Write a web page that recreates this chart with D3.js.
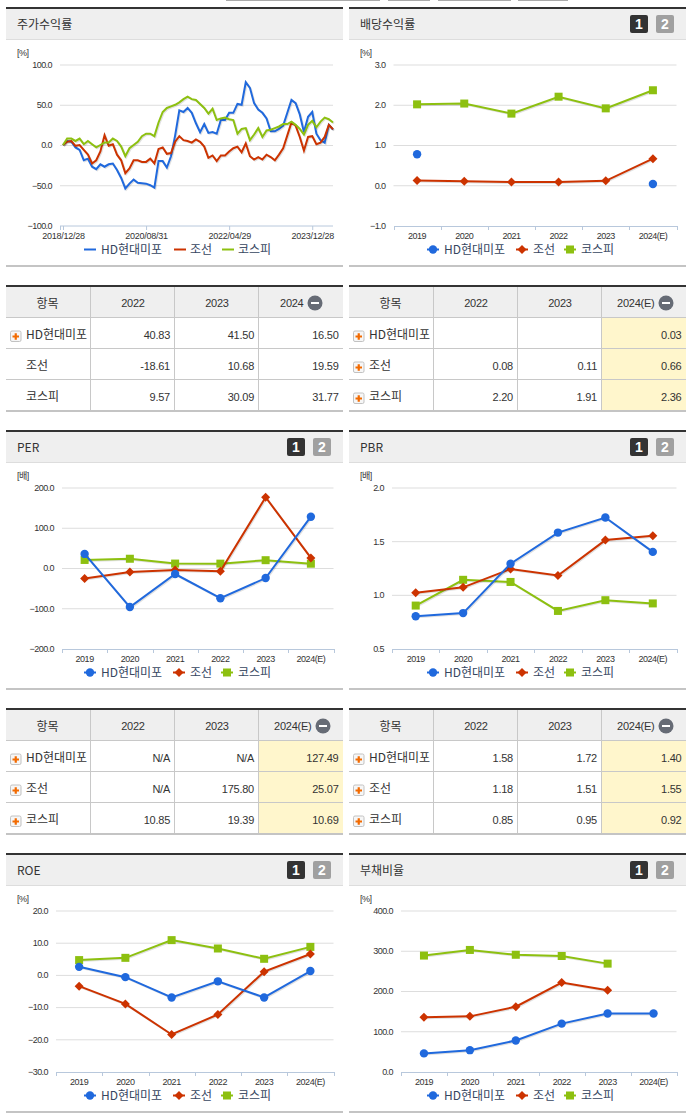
<!DOCTYPE html>
<html lang="ko"><head><meta charset="utf-8">
<script src="https://cdn.jsdelivr.net/npm/d3@7/dist/d3.min.js"></script>
<style>
html,body{margin:0;padding:0;background:#fff}
svg{display:block}
text{font-family:"Liberation Sans","Noto Sans CJK KR",sans-serif;fill:#333}
.ko{font-family:"Noto Sans CJK KR","Liberation Sans",sans-serif}
</style></head><body>
<svg id="c" width="691" height="1115"></svg>
<script>
// ---------- data ----------
const seriesNames = ["HD현대미포","조선","코스피"];
const seriesColors = ["#2069dd","#cc3300","#8dc010"];
const years = ["2019","2020","2021","2022","2023","2024(E)"];

const returnTicks = ["2018/12/28","2020/08/31","2022/04/29","2023/12/28"];
const returnTickIdx = [0,20,40,60];
const returnBlue = [0,5,4,-3,-6,-19,-17,-27,-30,-24,-27,-24,-23,-31,-41,-54,-48,-43,-47,-47.5,-48,-50,-53,-20,-20,-28,-14,12,43,41,46,40,27,16,26,15,16,14,31,31,40,40,51,50,78,71,52,44,40,33,17,17,20,24,40,56,52,38,16,35,41,14,6,3,25,19];
const returnRed = [0,4,5,-1,0,-6,-12,-23,-19,-8,12,-1,1,-12,-19,-35,-29,-19,-19,-21,-21,-17,-23,-5,-3,-11,-10,4,11,6,5,3,7,4,-2,-16,-13,-20,-13,-13,-8,-4,-2,-9,2,-14,-18,-15,-18,-12,-15,-19,-12,-4,12,28,24,10,-7,10,11,1,3,10,25,19.6];
const returnGreen = [0,8,8,5,8,1,5,1,-3,0,3,3,8,5,-2,-14,-4,0,4,11,14,14,11,28,41,46,48,50,53,57,60,57,56,51,46,39,45,31,33,34,32,31,14,20,21,6,13,21,10,18,19,21,23,26,26,29,25,20,13,25,30,22,29,34,32,28];

const divBlue = [0.77,null,null,null,null,0.03];
const divRed = [0.12,0.10,0.08,0.08,0.11,0.66];
const divGreen = [2.01,2.03,1.78,2.20,1.91,2.36];

const perBlue = [35,-97,-15,-75,-25,127.49];
const perRed = [-26,-10,-5,-8,175.80,25.07];
const perGreen = [20,23,11,10.85,19.39,10.69];

const pbrBlue = [0.80,0.83,1.29,1.58,1.72,1.40];
const pbrRed = [1.02,1.07,1.24,1.18,1.51,1.55];
const pbrGreen = [0.90,1.14,1.12,0.85,0.95,0.92];

const roeBlue = [2.5,-0.7,-7,-2,-7,1.2];
const roeRed = [-3.5,-9,-18.5,-12.3,1,6.5];
const roeGreen = [4.6,5.3,10.8,8.2,5,8.7];

const debtBlue = [45,53,77,119,144,144];
const debtRed = [135,137,161,221,202,null];
const debtGreen = [288,302,290,287,268,null];

const table1Head = ["항목","2022","2023","2024"];
const table1Rows = [["40.83","41.50","16.50"],["-18.61","10.68","19.59"],["9.57","30.09","31.77"]];
const table2Head = ["항목","2022","2023","2024(E)"];
const table2Rows = [["","","0.03"],["0.08","0.11","0.66"],["2.20","1.91","2.36"]];
const table3Rows = [["N/A","N/A","127.49"],["N/A","175.80","25.07"],["10.85","19.39","10.69"]];
const table4Rows = [["1.58","1.72","1.40"],["1.18","1.51","1.55"],["0.85","0.95","0.92"]];

const svg = d3.select("#c");
const LX = 6, RX = 349, PW = 337, ROW = 423;
const YT = 64.5, YB = 225.5;

function panelHead(px, oy, title, buttons){
  svg.append("rect").attr("x",px).attr("y",oy+7).attr("width",PW).attr("height",2).attr("fill","#333");
  svg.append("rect").attr("x",px).attr("y",oy+9).attr("width",PW).attr("height",30).attr("fill","#efefef");
  svg.append("rect").attr("x",px).attr("y",oy+39).attr("width",PW).attr("height",1).attr("fill","#ddd");
  svg.append("text").attr("class","ko").attr("x",px+11).attr("y",oy+28.5).attr("font-size",12).text(title);
  svg.append("rect").attr("x",px).attr("y",oy+265).attr("width",PW).attr("height",2).attr("fill","#c4c4c4");
  if(buttons){
    [["1","#333",281],["2","#a0a0a0",307]].forEach(([t,c,dx])=>{
      svg.append("rect").attr("x",px+dx).attr("y",oy+15).attr("width",18).attr("height",18).attr("rx",2).attr("fill",c);
      svg.append("text").attr("x",px+dx+9).attr("y",oy+29).attr("text-anchor","middle").attr("font-size",14).attr("font-weight","bold").style("fill","#fff").text(t);
    });
  }
}

function yAxisDraw(px, oy, y, x0, x1, ticks, unit, fmt){
  const g = svg.append("g").attr("transform",`translate(${x0},${oy})`);
  g.call(d3.axisLeft(y).tickValues(ticks).tickSize(0).tickPadding(8).tickFormat(fmt));
  g.select(".domain").remove();
  g.selectAll("text").attr("font-size",9).attr("letter-spacing","-0.55px").attr("font-family",null).style("fill","#333");
  g.selectAll(".tick").filter((d,i)=>i>0).append("line").attr("x2",x1-x0).attr("stroke","#ddd");
  svg.append("text").attr("x",px+11).attr("y",oy+56).attr("font-size",9).attr("letter-spacing","-0.5px").text(unit);
}

function legend(px, oy, withMarkers){
  const xs = [84,173,221], tx = [95,184,232];
  seriesNames.forEach((n,i)=>{
    const cx = px + xs[i];
    const yy = oy + 249.5;
    if(withMarkers){
      svg.append("line").attr("x1",cx-6).attr("x2",cx+6).attr("y1",yy).attr("y2",yy).attr("stroke",seriesColors[i]).attr("stroke-width",2);
      marker(svg,i,cx,yy);
    } else {
      svg.append("line").attr("x1",px+[78,168,216][i]).attr("x2",px+[90,180,228][i]).attr("y1",yy).attr("y2",yy).attr("stroke",seriesColors[i]).attr("stroke-width",2);
    }
    svg.append("text").attr("class","ko").attr("x",px+tx[i]).attr("y",oy+253.5).attr("font-size",12).style("fill","#36465f").text(n);
  });
}

function marker(g,i,x,y){
  if(i===0) g.append("circle").attr("cx",x).attr("cy",y).attr("r",4.2).attr("fill",seriesColors[0]);
  if(i===1) g.append("path").attr("d","M0,-4.5L4.5,0L0,4.5L-4.5,0Z").attr("transform",`translate(${x},${y})`).attr("fill",seriesColors[1]);
  if(i===2) g.append("rect").attr("x",x-4).attr("y",y-4).attr("width",8).attr("height",8).attr("fill",seriesColors[2]);
}

function yearChart(px, oy, title, x0, dom, ticks, unit, fmt, seriesList){
  panelHead(px, oy, title, true);
  const x1 = px + 327.5;
  const y = d3.scaleLinear().domain(dom).range([YB,YT]);
  yAxisDraw(px, oy, y, x0, x1, ticks, unit, fmt);
  const x = d3.scaleBand().domain(years).range([x0,x1]);
  const ax = svg.append("g").attr("transform",`translate(0,${oy+YB+.5})`);
  ax.call(d3.axisBottom(x).tickSize(0).tickPadding(7));
  ax.select(".domain").attr("stroke","#b8c8dc");
  ax.selectAll("text").attr("font-size",9).attr("letter-spacing","-0.5px").attr("font-family",null).style("fill","#333");
  d3.range(7).forEach(k=>{
    const xx = Math.round(x0 + k*x.bandwidth())+.5;
    ax.append("line").attr("x1",xx).attr("x2",xx).attr("y1",0).attr("y2",4).attr("stroke","#b8c8dc");
  });
  const cx = d => x(d)+x.bandwidth()/2;
  const line = d3.line().defined(d=>d.v!==null).x(d=>cx(d.k)).y(d=>y(d.v)+oy);
  [2,1,0].forEach(i=>{
    const pts = years.map((k,j)=>({k,v:seriesList[i][j]}));
    svg.append("path").attr("d",line(pts)).attr("fill","none").attr("stroke","#000").attr("stroke-opacity",.12).attr("stroke-width",2).attr("transform","translate(1,1)");
    svg.append("path").attr("d",line(pts)).attr("fill","none").attr("stroke",seriesColors[i]).attr("stroke-width",2);
    pts.filter(d=>d.v!==null).forEach(d=>marker(svg,i,cx(d.k),y(d.v)+oy));
  });
  legend(px, oy, true);
}

function returnChart(){
  const px=LX, oy=0, x0=60, x1=333;
  panelHead(px, oy, "주가수익률", false);
  const y = d3.scaleLinear().domain([-100,100]).range([YB,YT]);
  yAxisDraw(px, oy, y, x0, x1, [-100,-50,0,50,100], "[%]", d3.format(".1f"));
  const x = d3.scaleLinear().domain([0,65]).range([63,333]);
  const ax = svg.append("g").attr("transform",`translate(0,${YB+.5})`);
  ax.call(d3.axisBottom(x).tickValues(returnTickIdx).tickSize(4).tickPadding(3).tickFormat((d,i)=>returnTicks[i]));
  ax.select(".domain").attr("d",`M${x0},0H${x1}`).attr("stroke","#b8c8dc");
  ax.selectAll(".tick line").attr("stroke","#b8c8dc");
  ax.append("line").attr("x1",x0+.5).attr("x2",x0+.5).attr("y1",0).attr("y2",4).attr("stroke","#b8c8dc");
  ax.selectAll("text").attr("font-size",9).attr("letter-spacing","-0.25px").attr("font-family",null).style("fill","#333");
  const line = d3.line().x((d,i)=>x(i)).y(d=>y(d)).curve(d3.curveLinear);
  [[returnBlue,0],[returnRed,1],[returnGreen,2]].forEach(([s,i])=>{
    svg.append("path").attr("d",line(s)).attr("fill","none").attr("stroke","#000").attr("stroke-opacity",.12).attr("stroke-width",2).attr("transform","translate(1,1)");
    svg.append("path").attr("d",line(s)).attr("fill","none").attr("stroke",seriesColors[i]).attr("stroke-width",2);
  });
  legend(px, oy, false);
}

function plusIcon(x,y){
  svg.append("rect").attr("x",x+.5).attr("y",y+.5).attr("width",10.5).attr("height",10.5).attr("rx",1.5).attr("fill","#f6f6f6").attr("stroke","#c2c2c2");
  svg.append("path").attr("d",`M${x+2.5},${y+6}H${x+9}M${x+5.75},${y+2.75}V${y+9.25}`).attr("stroke","#f26a00").attr("stroke-width",2.2);
}

function table(px, oy, head, rows, showIcon, highlight, minusX){
  const T = oy, cols=[84.5,168.5,252.5], right=[168.5,252.5,337];
  svg.append("rect").attr("x",px).attr("y",T+285).attr("width",PW).attr("height",2).attr("fill","#333");
  svg.append("rect").attr("x",px).attr("y",T+287).attr("width",PW).attr("height",30).attr("fill","#efefef");
  if(highlight) svg.append("rect").attr("x",px+253).attr("y",T+317).attr("width",PW-253).attr("height",93).attr("fill","#fff6cc");
  [T+317.5,T+348.5,T+379.5].forEach(yy=>svg.append("line").attr("x1",px).attr("x2",px+PW).attr("y1",yy).attr("y2",yy).attr("stroke","#c8c8c8"));
  svg.append("rect").attr("x",px).attr("y",T+410).attr("width",PW).attr("height",2).attr("fill","#c4c4c4");
  cols.forEach(c=>svg.append("line").attr("x1",px+c).attr("x2",px+c).attr("y1",T+287).attr("y2",T+410).attr("stroke","#c8c8c8"));
  const heads=[41.5,127,211];
  head.forEach((h,i)=>{
    svg.append("text").attr("class",i===0?"ko":null).attr("x",px+(i<3?heads[i]:minusX-11.5)).attr("y",T+(i===0?307.5:307)).attr("font-size",i===0?12:11)
       .attr("letter-spacing",i===0?"0":"-0.25px").attr("text-anchor",i<3?"middle":"end").text(h);
  });
  svg.append("circle").attr("cx",px+minusX).attr("cy",T+303).attr("r",7.5).attr("fill","#666b75");
  svg.append("rect").attr("x",px+minusX-4).attr("y",T+302).attr("width",8).attr("height",2).attr("fill","#fff");
  seriesNames.forEach((n,r)=>{
    const my = T+[333,364,395][r];
    if(showIcon[r]) plusIcon(px+4,my-2.5);
    svg.append("text").attr("class","ko").attr("x",px+20).attr("y",my+6).attr("font-size",12).text(n);
    rows[r].forEach((v,c)=>{
      svg.append("text").attr("x",px+right[c]-4.5).attr("y",my+6).attr("font-size",11).attr("letter-spacing","-0.25px")
         .attr("text-anchor","end").text(v);
    });
  });
}

// top fragments of the previous section
[[226,380],[388,430],[438,511],[518,568]].forEach(([a,b])=>
  svg.append("rect").attr("x",a).attr("y",0).attr("width",b-a).attr("height",1).attr("fill","#aaa"));

const f1 = d3.format(".1f");
returnChart();
yearChart(RX,0,"배당수익률",393.5,[-1,3],[-1,0,1,2,3],"[%]",f1,[divBlue,divRed,divGreen]);
table(LX,0,table1Head,table1Rows,[true,false,false],false,309);
table(RX,0,table2Head,table2Rows,[true,true,true],true,317);
yearChart(LX,ROW,"PER",62,[-200,200],[-200,-100,0,100,200],"[배]",f1,[perBlue,perRed,perGreen]);
yearChart(RX,ROW,"PBR",392,[0.5,2],[0.5,1,1.5,2],"[배]",f1,[pbrBlue,pbrRed,pbrGreen]);
table(LX,ROW,table2Head,table3Rows,[true,true,true],true,317);
table(RX,ROW,table2Head,table4Rows,[true,true,true],true,317);
yearChart(LX,ROW*2,"ROE",56,[-30,20],[-30,-20,-10,0,10,20],"[%]",f1,[roeBlue,roeRed,roeGreen]);
yearChart(RX,ROW*2,"부채비율",401,[0,400],[0,100,200,300,400],"[%]",f1,[debtBlue,debtRed,debtGreen]);
</script>
</body></html>
